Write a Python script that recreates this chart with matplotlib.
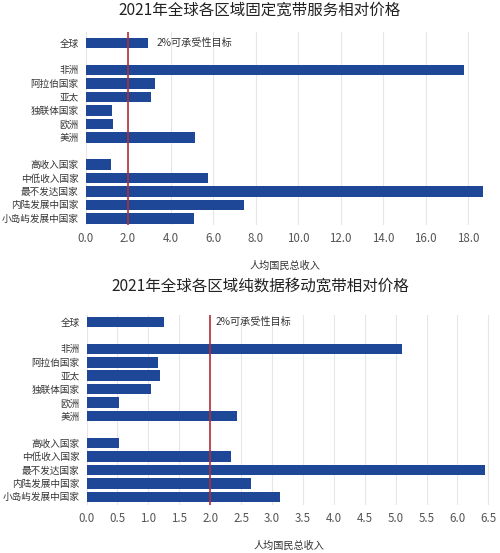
import numpy as np
import matplotlib
matplotlib.use("Agg")
import matplotlib.pyplot as plt

plt.rcParams['font.family'] = ['Noto Sans CJK SC', 'DejaVu Sans']

labels = ["全球", "非洲", "阿拉伯国家", "亚太", "独联体国家", "欧洲", "美洲",
          "高收入国家", "中低收入国家", "最不发达国家", "内陆发展中国家", "小岛屿发展中国家"]
positions = [0, 2, 3, 4, 5, 6, 7, 9, 10, 11, 12, 13]

fixed_vals = [2.95, 17.8, 3.25, 3.1, 1.27, 1.3, 5.15, 1.2, 5.75, 18.7, 7.45, 5.1]
mobile_vals = [1.25, 5.1, 1.16, 1.19, 1.05, 0.52, 2.43, 0.52, 2.33, 6.45, 2.66, 3.13]

title1 = "2021年全球各区域固定宽带服务相对价格"
title2 = "2021年全球各区域纯数据移动宽带相对价格"
target_label = "2%可承受性目标"
xlabel = "人均国民总收入"
target = 2.0

bar_color = "#1e4797"
red = "#b0303a"
txt = "#333333"

fig = plt.figure(figsize=(5.0, 5.53), dpi=100)

def draw(ax, vals, ticks, xlim, ylim, txt_x, title, title_y):
    ax.barh(positions, vals, height=0.78, color=bar_color, zorder=2)
    ax.axvline(target, color=red, linewidth=1.2, zorder=3)
    ax.set_xlim(*xlim)
    ax.set_ylim(*ylim)
    ax.set_xticks(ticks)
    ax.set_xticklabels(["%.1f" % t for t in ticks], fontsize=8.3, color="#555555")
    ax.set_yticks(positions)
    ax.set_yticklabels(labels, fontsize=6.9, color=txt)
    ax.tick_params(axis='both', length=0)
    ax.tick_params(axis='y', pad=5)
    ax.tick_params(axis='x', pad=5)
    ax.grid(axis='x', color="#e6e6e6", linewidth=0.8, zorder=0)
    for s in ax.spines.values():
        s.set_visible(False)
    ax.text(txt_x, 0, target_label, fontsize=7.3, color=txt, va='center', ha='left')
    ax.set_xlabel(xlabel, fontsize=7.3, color=txt, labelpad=11)
    fig.text(0.52, title_y, title, fontsize=11.2, color="#222222", ha='center', va='center')

ax1 = fig.add_axes([0.171, 0.593, 0.799, 0.349])
draw(ax1, fixed_vals, np.arange(0, 18.1, 2.0), (0, 18.8), (13.5, -0.8),
     3.35, title1, 0.982)

ax2 = fig.add_axes([0.173, 0.087, 0.81, 0.343])
draw(ax2, mobile_vals, np.arange(0, 6.6, 0.5), (0, 6.55), (13.6, -0.5),
     2.08, title2, 0.482)

fig.savefig("out.png", dpi=100)
